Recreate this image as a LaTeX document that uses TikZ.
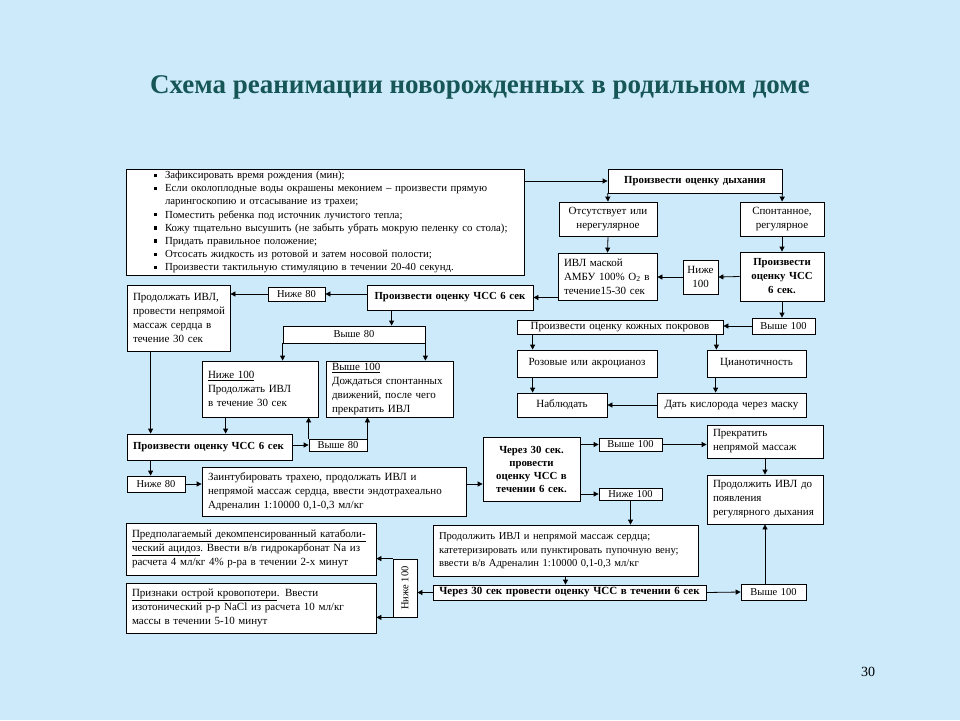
\documentclass[tikz,border=0pt]{standalone}
\usepackage{fontspec}
\setmainfont{Liberation Serif}
\usetikzlibrary{arrows.meta,calc}
\definecolor{bgc}{RGB}{204,234,250}
\definecolor{ttl}{RGB}{22,86,86}
\newcommand\fs[2]{\fontsize{#1}{#2}\selectfont}
\newcommand\bul{\makebox[11pt][l]{\rule[1.6pt]{3.2pt}{3.2pt}}}
\newcommand\bx[7][]{%
 \pgfmathsetmacro\bxw{#4-#2}\pgfmathsetmacro\bxh{#5-#3}%
 \pgfmathsetmacro\bxt{#4-#2-12}\pgfmathsetmacro\bxs{#4-#2-2}%
 \pgfmathsetmacro\bxx{(#2+#4)/2}\pgfmathsetmacro\bxy{(#3+#5)/2}%
 \node[boxst,minimum width=\bxw pt,minimum height=\bxh pt,text width=\bxt pt,#1] (#6) at (\bxx,\bxy) {#7};}
\tikzset{
 boxst/.style={draw=black,fill=white,line width=0.8pt,inner xsep=6pt,inner ysep=0pt,align=left,font=\fs{11}{14}},
 C/.style={align=center},
 sm/.style={inner xsep=1pt,text width=\bxs pt,align=center,font=\fs{10.5}{11}},
 B/.style={font=\fs{10.8}{14}\bfseries},
 arr/.style={-{Triangle[length=5pt,width=5pt]},line width=0.8pt},
}
\begin{document}
\begin{tikzpicture}[x=1pt,y=-1pt]
\fill[bgc] (0,0) rectangle (960,720);
\useasboundingbox (0,0) rectangle (960,720);
\node[font=\fs{27}{30}\bfseries,text=ttl] (title) at (480,87) {Схема реанимации новорожденных в родильном доме};
\node[font=\fs{14}{16}] (pg) at (868,672) {30};

\bx[font=\fs{10.8}{13.1}]{126}{169}{524}{275}{bul}{%
\hspace*{22pt}\bul Зафиксировать время рождения (мин);\\
\hspace*{22pt}\bul Если околоплодные воды окрашены меконием – произвести прямую\\
\hspace*{33pt}ларингоскопию и отсасывание из трахеи;\\
\hspace*{22pt}\bul Поместить ребенка под источник лучистого тепла;\\
\hspace*{22pt}\bul Кожу~тщательно~высушить (не~забыть~убрать~мокрую~пеленку~со~стола);\\
\hspace*{22pt}\bul Придать правильное положение;\\
\hspace*{22pt}\bul Отсосать жидкость из ротовой и затем носовой полости;\\
\hspace*{22pt}\bul Произвести тактильную стимуляцию в течении 20-40 секунд.}
\bx[B,C]{608}{169}{782}{193}{breath}{Произвести оценку дыхания}
\bx[C]{559}{202}{657}{236}{absent}{Отсутствует или\\нерегулярное}
\bx[C]{740}{202}{824}{236}{spont}{Спонтанное,\\регулярное}
\bx{558}{253}{657}{300}{ivl}{ИВЛ~маской\\АМБУ~100\%~O\textsubscript{2}~в\\течение15-30~сек}
\bx[sm,font=\fs{11}{14}]{683}{260}{718}{294}{nlo1}{Ниже\\100}
\bx[B,C]{740}{252}{824}{301}{chss1}{Произвести\\оценку ЧСС\\6 сек.}
\bx[B,C]{367}{285}{533}{310}{chss2}{Произвести оценку ЧСС 6 сек}
\bx[sm]{268}{287}{325}{301}{n80a}{Ниже 80}
\bx{127}{285}{230}{351}{cont}{Продолжать~ИВЛ,\\провести~непрямой\\массаж~сердца~в\\течение~30~сек}
\bx[sm]{283}{326}{425}{343}{v80w}{Выше 80}
\bx{202}{361}{318}{417}{lo100}{\underline{Ниже 100}\\Продолжать ИВЛ\\в течение 30 сек\par\vspace*{12pt}}
\bx{326}{361}{453}{417}{hi100}{\underline{Выше 100}\\Дождаться~спонтанных\\движений,~после~чего\\прекратить ИВЛ}
\bx[B]{127}{434}{292}{460}{chss3}{Произвести оценку ЧСС 6 сек}
\bx[sm]{309}{439}{367}{451}{v80b}{Выше 80}
\bx[sm]{127}{476}{185}{492}{n80b}{Ниже 80}
\bx{202}{467}{466}{516}{intub}{Заинтубировать трахею, продолжать ИВЛ и\\непрямой~массаж~сердца,~ввести~эндотрахеально\\Адреналин 1:10000 0,1-0,3 мл/кг}
\bx[B,C,font=\fs{10.8}{13}\bfseries]{483}{437}{580}{501}{chk30}{Через~30~сек.\\провести\\оценку~ЧСС~в\\течении~6~сек.}
\bx[sm]{599}{438}{662}{451}{hi100b}{Выше 100}
\bx[sm]{599}{488}{662}{500}{lo100b}{Ниже 100}
\bx{707}{425}{823}{458}{stop}{Прекратить\\непрямой~массаж}
\bx{707}{475}{823}{524}{contivl}{Продолжить~ИВЛ~до\\появления\\регулярного~дыхания}
\bx[font=\fs{10.6}{13.5}]{433}{525}{698}{576}{epi}{Продолжить ИВЛ и непрямой массаж сердца;\\катетеризировать~или~пунктировать~пупочную~вену;\\ввести в/в Адреналин 1:10000 0,1-0,3 мл/кг}
\bx[B,C,font=\fs{11}{12}\bfseries]{433}{585}{706}{600}{bar30}{Через~30~сек~провести~оценку~ЧСС~в~течении~6~сек}
\bx[sm]{741}{584}{806}{600}{hi100c}{Выше 100}
\bx[sm]{393}{559}{417}{617}{vlo}{}
\node[rotate=90,font=\fs{10.5}{11}] (vlot) at (vlo.center) {Ниже 100};
\bx[font=\fs{11}{14}]{126}{523}{376}{575}{acid}{\underline{Предполагаемый~декомпенсированный~катаболи-}\\\underline{ческий ацидоз}.~Ввести~в/в~гидрокарбонат~Na~из\\расчета 4 мл/кг 4\% р-ра в течении 2-х минут}
\bx[font=\fs{11}{14}]{126}{583}{376}{633}{blood}{\underline{Признаки острой кровопотери}. Ввести\\изотонический~р-р~NaCl~из~расчета~10~мл/кг\\массы в течении 5-10 минут}
\bx[sm]{752}{318}{815}{334}{hi100t}{Выше 100}
\bx[sm,font=\fs{11}{12}]{517}{320}{723}{334}{skin}{Произвести оценку кожных покровов}
\bx[C]{517}{350}{657}{377}{pink}{Розовые или акроцианоз}
\bx[C]{707}{350}{806}{377}{cyan}{Цианотичность}
\bx[C]{517}{393}{607}{417}{obs}{Наблюдать}
\bx[C]{657}{393}{806}{417}{oxy}{Дать кислорода через маску}

% connectors
\draw[arr] (bul.east |- breath.west) -- (breath.west);
\draw[arr] (breath.south west) -- (absent.north);
\draw[arr] (breath.south east) -- (spont.north);
\draw[arr] (absent.south) -- (ivl.north);
\draw[arr] (spont.south) -- (chss1.north);
\draw[arr] (chss1.west) -- (nlo1.east);
\draw[arr] (nlo1.west) -- (ivl.east |- nlo1.west);
\draw[arr] (ivl.west |- chss2.east) -- (chss2.east);
\draw[arr] (chss2.west |- n80a.east) -- (n80a.east);
\draw[arr] (n80a.west) -- (cont.east |- n80a.west);
\draw[arr] ([xshift=25pt]chss2.south west) -- ([xshift=25pt]chss2.south west |- v80w.north);
\draw[arr] (v80w.south west) -- (v80w.south west |- lo100.north);
\draw[arr] (v80w.south east) -- (v80w.south east |- hi100.north);
\draw[arr] ([xshift=24pt]cont.south west) -- ([xshift=24pt]cont.south west |- chss3.north);
\draw[arr] ([xshift=24pt]lo100.south west) -- ([xshift=24pt]lo100.south west |- chss3.north);
\draw[arr] (chss3.east |- v80b.west) -- (v80b.west);
\draw[arr] (v80b.north west) -- (v80b.north west |- lo100.south);
\draw[arr] (v80b.north east) -- (v80b.north east |- hi100.south);
\draw[arr] ([xshift=24pt]chss3.south west) -- ([xshift=24pt]chss3.south west |- n80b.north);
\draw[arr] (n80b.east) -- (intub.west |- n80b.east);
\draw[arr] (n80b.east -| intub.east) -- (n80b.east -| chk30.west);
\draw[arr] (hi100b.west -| chk30.east) -- (hi100b.west);
\draw[arr] (hi100b.east) -- (hi100b.east -| stop.west);
\draw[arr] (lo100b.west -| chk30.east) -- (lo100b.west);
\draw[arr] (lo100b.south) -- (lo100b.south |- epi.north);
\draw[arr] (stop.south) -- (contivl.north);
\draw[arr] (contivl.south |- hi100c.north) -- (contivl.south);
\draw[arr] (epi.south) -- (epi.south |- bar30.north);
\draw[arr] (bar30.east) -- (hi100c.west);
\draw[arr] (bar30.west) -- (vlo.east |- bar30.west);
\draw[arr] (vlo.north west) -- (vlo.north west -| acid.east);
\draw[arr] (vlo.south west) -- (vlo.south west -| blood.east);
\draw[arr] (chss1.south) -- (chss1.south |- hi100t.north);
\draw[arr] (hi100t.west) -- (hi100t.west -| skin.east);
\draw[arr] ([xshift=16pt]skin.south west) -- ([xshift=16pt]skin.south west |- pink.north);
\draw[arr] ([xshift=-7pt]skin.south east) -- ([xshift=-7pt]skin.south east |- cyan.north);
\draw[arr] ([xshift=16pt]pink.south west) -- ([xshift=16pt]pink.south west |- obs.north);
\draw[arr] ([xshift=9pt]cyan.south west) -- ([xshift=9pt]cyan.south west |- oxy.north);
\draw[arr] (oxy.west) -- (obs.east);
\end{tikzpicture}
\end{document}
